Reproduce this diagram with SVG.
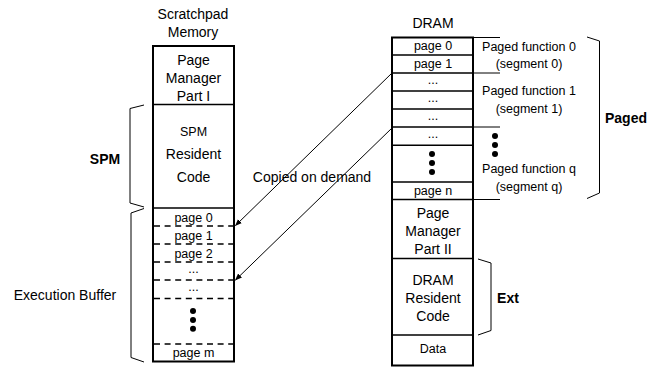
<svg xmlns="http://www.w3.org/2000/svg" width="663" height="368" viewBox="0 0 663 368">
<style>
text{font-family:"Liberation Sans",Arial,sans-serif;fill:#000;text-anchor:middle;dominant-baseline:central}
.t14{font-size:14px}
.t12{font-size:12.5px}
.b{font-size:14px;font-weight:bold}
.box{fill:#fff;stroke:#000;stroke-width:2}
.div{stroke:#000;stroke-width:1.6;fill:none}
.dash{stroke:#000;stroke-width:1.6;stroke-dasharray:6,4.6;fill:none}
.thin{stroke:#000;stroke-width:1;fill:none}
.conn{stroke:#000;stroke-width:1;fill:none}
</style>
<defs>
<marker id="ah" viewBox="0 0 10 10" refX="9" refY="5" markerWidth="7" markerHeight="7" orient="auto" markerUnits="userSpaceOnUse">
<path d="M0,1 L10,5 L0,9 z" fill="#000"/>
</marker>
</defs>
<rect width="663" height="368" fill="#fff"/>

<g id="spm">
<text class="t14" x="193" y="14">Scratchpad</text>
<text class="t14" x="193" y="32">Memory</text>
<rect class="box" x="153" y="46" width="81" height="315.5"/>
<line class="div" x1="153" y1="104.5" x2="234" y2="104.5"/>
<line class="div" x1="153" y1="208" x2="234" y2="208"/>
<text class="t14" x="193.5" y="60">Page</text>
<text class="t14" x="193.5" y="78">Manager</text>
<text class="t14" x="193.5" y="96">Part I</text>
<text class="t12" x="193.5" y="132">SPM</text>
<text class="t14" x="193.5" y="154">Resident</text>
<text class="t14" x="193.5" y="177">Code</text>
</g>

<g id="exec-buffer">
<line class="dash" x1="154" y1="226" x2="234" y2="226"/>
<line class="dash" x1="154" y1="244" x2="234" y2="244"/>
<line class="dash" x1="154" y1="262" x2="234" y2="262"/>
<line class="dash" x1="154" y1="280" x2="234" y2="280"/>
<line class="dash" x1="154" y1="298.5" x2="234" y2="298.5"/>
<line class="dash" x1="154" y1="344" x2="234" y2="344"/>
<text class="t12" x="193.5" y="217.5">page 0</text>
<text class="t12" x="193.5" y="235.5">page 1</text>
<text class="t12" x="193.5" y="253.5">page 2</text>
<text class="t12" x="193.5" y="269">...</text>
<text class="t12" x="193.5" y="287">...</text>
<circle cx="193" cy="311" r="3"/>
<circle cx="193" cy="320" r="3"/>
<circle cx="193" cy="328.7" r="3"/>
<text class="t12" x="193.5" y="353">page m</text>
</g>

<g id="spm-bracket">
<path class="thin" d="M144,105 L130,108.5 L130,203 L144,207"/>
<text class="b" x="105" y="159">SPM</text>
</g>

<g id="exec-bracket">
<path class="thin" d="M144,208.5 L131,213 L131,357.5 L144,362"/>
<text class="t14" x="65" y="295">Execution Buffer</text>
</g>

<g id="dram">
<text class="t14" x="433" y="23">DRAM</text>
<rect class="box" x="392" y="37.5" width="81" height="328"/>
<line class="div" x1="392" y1="55" x2="473" y2="55"/>
<line class="div" x1="392" y1="73" x2="473" y2="73"/>
<line class="div" x1="392" y1="91" x2="473" y2="91"/>
<line class="div" x1="392" y1="109" x2="473" y2="109"/>
<line class="div" x1="392" y1="127" x2="473" y2="127"/>
<line class="div" x1="392" y1="145.3" x2="473" y2="145.3"/>
<line class="div" x1="392" y1="182" x2="473" y2="182"/>
<line class="div" x1="392" y1="199.5" x2="473" y2="199.5"/>
<line class="div" x1="392" y1="258.5" x2="473" y2="258.5"/>
<line class="div" x1="392" y1="335" x2="473" y2="335"/>
<text class="t12" x="433" y="46">page 0</text>
<text class="t12" x="433" y="64">page 1</text>
<text class="t12" x="433" y="80">...</text>
<text class="t12" x="433" y="98">...</text>
<text class="t12" x="433" y="116">...</text>
<text class="t12" x="433" y="134">...</text>
<circle cx="432" cy="154" r="3"/>
<circle cx="432" cy="163" r="3"/>
<circle cx="432" cy="172" r="3"/>
<text class="t12" x="433" y="191">page n</text>
<text class="t14" x="433" y="213">Page</text>
<text class="t14" x="433" y="231">Manager</text>
<text class="t14" x="433" y="249">Part II</text>
<text class="t14" x="433" y="280">DRAM</text>
<text class="t14" x="433" y="298">Resident</text>
<text class="t14" x="433" y="316">Code</text>
<text class="t12" x="433" y="349">Data</text>
</g>

<g id="segments">
<line class="thin" x1="473" y1="37.5" x2="500" y2="37.5"/>
<line class="thin" x1="473" y1="73" x2="500" y2="73"/>
<line class="thin" x1="473" y1="127" x2="500" y2="127"/>
<line class="thin" x1="473" y1="199.5" x2="500" y2="199.5"/>
<text class="t12" x="529" y="47">Paged function 0</text>
<text class="t12" x="529" y="64">(segment 0)</text>
<text class="t12" x="529" y="91">Paged function 1</text>
<text class="t12" x="529" y="109">(segment 1)</text>
<circle cx="495" cy="136" r="3"/>
<circle cx="495" cy="145" r="3"/>
<circle cx="495" cy="154" r="3"/>
<text class="t12" x="529" y="169">Paged function q</text>
<text class="t12" x="529" y="187">(segment q)</text>
</g>

<g id="paged-bracket">
<path class="thin" d="M587,37 L599.5,41 L599.5,193 L587,198.5"/>
<text class="b" x="626" y="118">Paged</text>
</g>

<g id="ext-bracket">
<path class="thin" d="M478,259 L491,263 L491,330.5 L478,335"/>
<text class="b" x="508" y="298">Ext</text>
</g>

<g id="connectors">
<line class="conn" x1="392" y1="73" x2="235.5" y2="225.5" marker-end="url(#ah)"/>
<line class="conn" x1="392" y1="128" x2="235.5" y2="280" marker-end="url(#ah)"/>
<text class="t14" x="312" y="177">Copied on demand</text>
</g>
</svg>
